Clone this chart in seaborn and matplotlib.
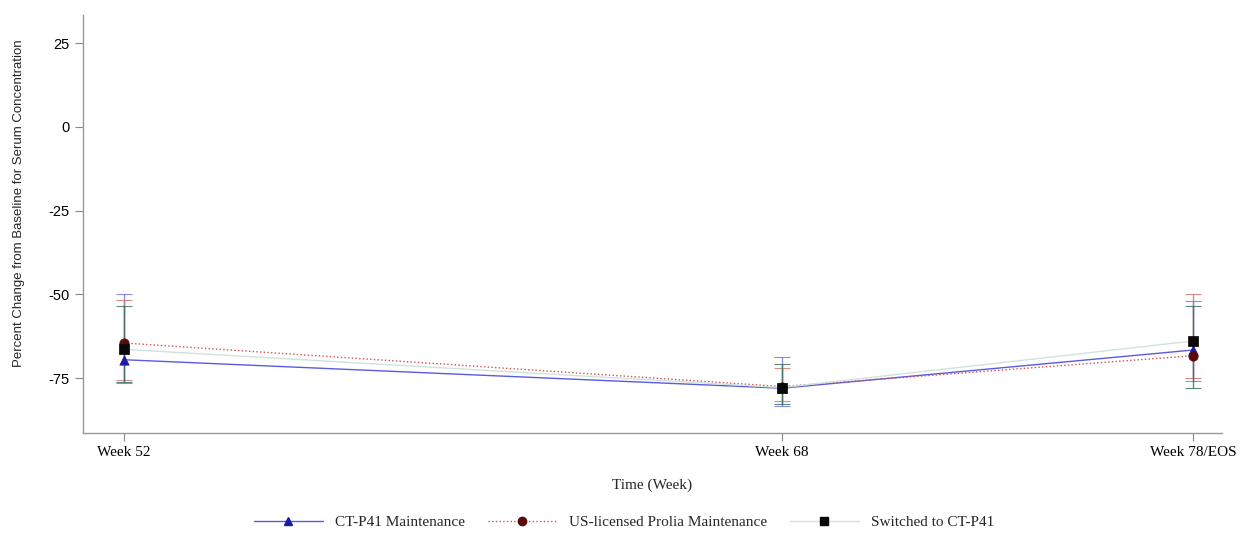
import matplotlib
matplotlib.use("Agg")
import matplotlib.pyplot as plt
import seaborn as sns
import pandas as pd
from matplotlib.lines import Line2D

weeks = [52, 68, 78]
tick_labels = ["Week 52", "Week 68", "Week 78/EOS"]
series = ["CT-P41 Maintenance", "US-licensed Prolia Maintenance", "Switched to CT-P41"]
ctp41_mean = [-69.5, -78.0, -66.6]
ctp41_low = [-76.5, -83.4, -75.8]
ctp41_high = [-50.0, -68.8, -51.9]
prolia_mean = [-64.5, -77.5, -68.3]
prolia_low = [-75.5, -81.9, -75.1]
prolia_high = [-51.7, -71.9, -50.0]
switch_mean = [-66.4, -77.8, -63.9]
switch_low = [-76.0, -82.6, -77.8]
switch_high = [-53.5, -70.9, -53.5]

means = [ctp41_mean, prolia_mean, switch_mean]
lows = [ctp41_low, prolia_low, switch_low]
highs = [ctp41_high, prolia_high, switch_high]

line_colors = ["#5a5ae0", "#d05050", "#cfe3dc"]
marker_colors = ["#1a1aa8", "#5a0a0a", "#0a0a0a"]
bar_colors = ["#7070e0", "#d07070", "#2f6f5f"]
markers = ["^", "o", "s"]
lstyles = ["-", ":", "-"]

rows = []
for s, m in zip(series, means):
    for w, v in zip(weeks, m):
        rows.append({"week": w, "value": v, "series": s})
df = pd.DataFrame(rows)

sns.set_style("white")
fig = plt.figure(figsize=(12.48, 5.4), dpi=100)
ax = fig.add_axes([0.0665, 0.198, 0.9125, 0.774])

# error bars
for i, s in enumerate(series):
    lo = [m - l for m, l in zip(means[i], lows[i])]
    hi = [h - m for m, h in zip(means[i], highs[i])]
    ax.errorbar(weeks, means[i], yerr=[lo, hi], fmt="none", ecolor=bar_colors[i],
                elinewidth=1.0, capsize=6, capthick=0.8, alpha=0.8, zorder=2)

for i, s in enumerate(series):
    sub = df[df["series"] == s]
    sns.lineplot(data=sub, x="week", y="value", ax=ax, color=line_colors[i],
                 linestyle=lstyles[i], linewidth=1.0, legend=False, zorder=3)
    sns.scatterplot(data=sub, x="week", y="value", ax=ax, marker=markers[i],
                    color=marker_colors[i], s=45, edgecolor=marker_colors[i],
                    legend=False, zorder=4)

ax.set_xlim(51.0, 78.7)
ax.set_ylim(-91.4, 33.4)
ax.set_xticks(weeks)
ax.set_xticklabels(tick_labels, fontfamily="Liberation Serif", fontsize=11)
ax.set_yticks([25, 0, -25, -50, -75])
ax.set_yticklabels(["25", "0", "-25", "-50", "-75"], fontfamily="Liberation Sans", fontsize=10.5)
ax.set_xlabel("Time (Week)", fontfamily="Liberation Serif", fontsize=11, labelpad=14)
ax.set_ylabel("Percent Change from Baseline for Serum Concentration",
              fontfamily="Liberation Sans", fontsize=9.5)
ax.yaxis.set_label_coords(-0.051, 0.55)

for sp in ["top", "right"]:
    ax.spines[sp].set_visible(False)
for sp in ["left", "bottom"]:
    ax.spines[sp].set_color("#999999")
    ax.spines[sp].set_linewidth(1.0)
ax.tick_params(axis="both", direction="out", length=6, color="#888888", width=0.8,
               bottom=True, left=True, labelcolor="black")
ax.grid(False)

handles = []
for i, s in enumerate(series):
    handles.append(Line2D([0], [0], color=line_colors[i], linestyle=lstyles[i], linewidth=1.0,
                          marker=markers[i], markerfacecolor=marker_colors[i],
                          markeredgecolor=marker_colors[i], markersize=6))
leg = fig.legend(handles, series, loc="center", bbox_to_anchor=(0.5, 0.033), ncol=3,
                 frameon=False, prop={"family": "Liberation Serif", "size": 11},
                 handlelength=4.5, columnspacing=1.5, handletextpad=0.8)

fig.savefig("out.png", dpi=100)
